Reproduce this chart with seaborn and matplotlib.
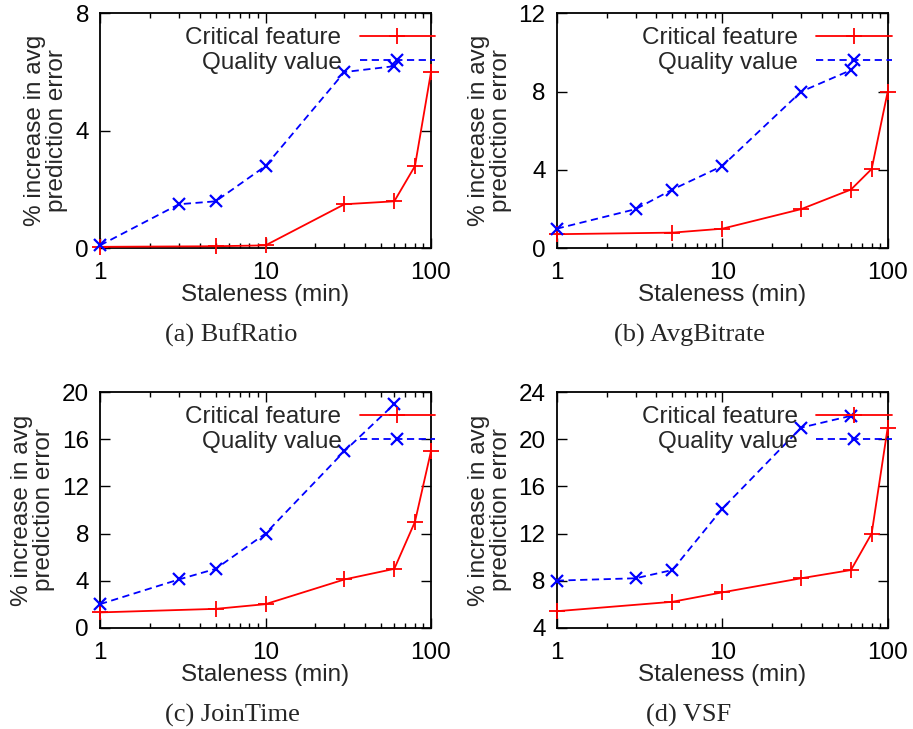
import matplotlib
matplotlib.use("Agg")
import matplotlib.pyplot as plt
from matplotlib.ticker import LogLocator, NullFormatter, FixedLocator
import pandas as pd
import seaborn as sns

# Staleness values (minutes) at which each method was evaluated
crit_x = [1, 5, 10, 30, 60, 80, 100]
qual_x = [1, 3, 5, 10, 30, 60]

# % increase in average prediction error
bufratio_crit = [0.05, 0.07, 0.1, 1.5, 1.6, 2.8, 6.0]
bufratio_qual = [0.1, 1.5, 1.6, 2.8, 6.0, 6.2]
avgbitrate_crit = [0.72, 0.8, 1.0, 2.0, 3.0, 4.05, 8.0]
avgbitrate_qual = [1.0, 2.0, 3.0, 4.2, 8.0, 9.1]
jointime_crit = [1.3, 1.6, 2.0, 4.1, 5.0, 9.0, 15.0]
jointime_qual = [2.0, 4.1, 5.0, 8.0, 15.0, 19.0]
vsf_crit = [5.4, 6.2, 7.0, 8.2, 8.9, 12.0, 21.0]
vsf_qual = [8.0, 8.2, 8.9, 14.1, 21.0, 22.0]

captions = ["(a) BufRatio", "(b) AvgBitrate", "(c) JoinTime", "(d) VSF"]
y_ranges = [(0, 8), (0, 12), (0, 20), (4, 24)]
y_ticks = [[0, 4, 8], [0, 4, 8, 12], [0, 4, 8, 12, 16, 20], [4, 8, 12, 16, 20, 24]]
x_ticks = [1, 10, 100]
series_labels = ["Critical feature", "Quality value"]

panels = [
    (bufratio_crit, bufratio_qual),
    (avgbitrate_crit, avgbitrate_qual),
    (jointime_crit, jointime_qual),
    (vsf_crit, vsf_qual),
]

RED = "#ff0000"
BLUE = "#0000ff"

sns.set_theme(style="ticks")
FS = 17.5
plt.rcParams["font.family"] = ["Liberation Sans", "DejaVu Sans"]
plt.rcParams.update({
    "axes.linewidth": 1.3,
    "xtick.direction": "in",
    "ytick.direction": "in",
    "xtick.top": True,
    "ytick.right": True,
    "xtick.major.size": 7,
    "ytick.major.size": 7,
    "xtick.minor.size": 3.5,
    "xtick.major.width": 1.0,
    "ytick.major.width": 1.0,
    "xtick.minor.width": 1.0,
    "xtick.labelsize": FS,
    "ytick.labelsize": FS,
    "axes.labelsize": FS,
    "xtick.color": "black",
    "ytick.color": "black",
    "axes.edgecolor": "black",
})

W, H = 913, 729
fig = plt.figure(figsize=(W / 100, H / 100), dpi=100)

# panel boxes in pixels: left, top, right, bottom
boxes = [
    (100, 13.3, 431, 248.3),
    (556.7, 13.3, 887.7, 248.3),
    (100, 392.3, 431, 627.7),
    (556.7, 392.3, 887.7, 627.7),
]
caption_pos = [(231, 335), (689, 335), (232, 715), (689, 715)]

for i, ((crit, qual), box) in enumerate(zip(panels, boxes)):
    l, t, r, b = box
    ax = fig.add_axes([l / W, 1 - b / H, (r - l) / W, (b - t) / H])

    df_c = pd.DataFrame({"staleness": crit_x, "error": crit})
    df_q = pd.DataFrame({"staleness": qual_x, "error": qual})

    sns.lineplot(data=df_c, x="staleness", y="error", ax=ax, color=RED,
                 marker="+", markersize=11, markeredgewidth=1.3,
                 markeredgecolor=RED, linewidth=1.3,
                 label=series_labels[0], clip_on=False, zorder=3)
    sns.lineplot(data=df_q, x="staleness", y="error", ax=ax, color=BLUE,
                 marker="x", markersize=9, markeredgewidth=1.6,
                 markeredgecolor=BLUE, linewidth=1.3,
                 label=series_labels[1], clip_on=False, zorder=3)
    ax.lines[-1].set_dashes((4.0, 2.5))

    ax.set_xscale("log")
    ax.set_xlim(1, 100)
    ax.set_ylim(*y_ranges[i])
    ax.xaxis.set_major_locator(FixedLocator(x_ticks))
    ax.set_xticklabels([str(v) for v in x_ticks])
    ax.xaxis.set_minor_locator(LogLocator(base=10, subs=range(2, 10)))
    ax.xaxis.set_minor_formatter(NullFormatter())
    ax.set_yticks(y_ticks[i])
    ax.set_yticklabels([str(v) for v in y_ticks[i]])
    ax.tick_params(axis="x", which="both", pad=10)
    ax.tick_params(axis="y", which="both", pad=8)

    ax.set_xlabel("Staleness (min)", labelpad=0)
    ax.set_ylabel("% increase in avg\nprediction error", linespacing=1.0, labelpad=5)

    leg = ax.legend(loc="upper right", bbox_to_anchor=(1.012, 0.94), frameon=False,
                    markerfirst=False, fontsize=FS, handlelength=3.1,
                    handletextpad=0.75, labelspacing=0.1, borderpad=0,
                    borderaxespad=0)
    for line in leg.get_lines():
        line.set_clip_on(False)

    cx, cy = caption_pos[i]
    fig.text(cx / W, 1 - cy / H, captions[i], ha="center", va="center",
             fontsize=19, family=["Liberation Serif", "DejaVu Serif"])

fig.savefig("out.png", dpi=100)
